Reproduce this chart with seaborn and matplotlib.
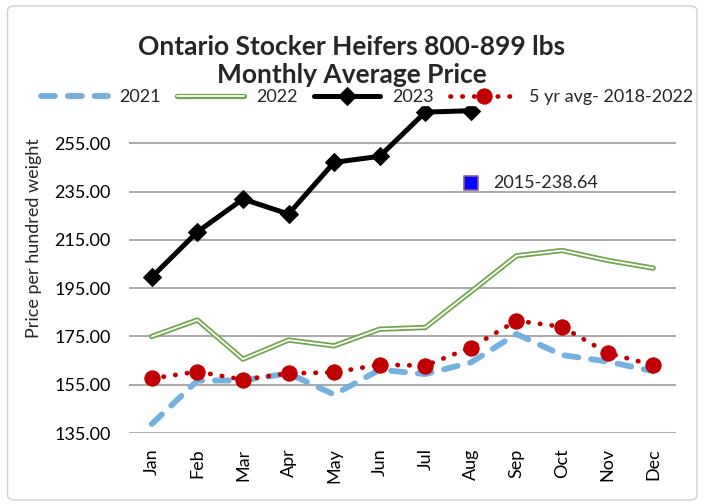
import matplotlib
matplotlib.use("Agg")
import matplotlib.pyplot as plt
import matplotlib.patheffects as pe
from matplotlib.patches import FancyBboxPatch
import seaborn as sns
import numpy as np

months = ["Jan", "Feb", "Mar", "Apr", "May", "Jun", "Jul", "Aug", "Sep", "Oct", "Nov", "Dec"]
y2021 = [138.7, 156.7, 156.8, 159.7, 150.9, 161.2, 159.4, 164.2, 176.0, 167.3, 164.6, 160.6]
y2022 = [175.0, 181.8, 165.6, 173.5, 171.1, 178.0, 178.7, 193.5, 208.4, 210.6, 206.5, 203.3]
y2023 = [199.6, 218.3, 231.9, 225.7, 247.1, 249.6, 267.9, 268.5]
y5yr = [157.6, 160.4, 157.1, 159.7, 160.1, 163.3, 162.9, 170.4, 181.5, 179.0, 168.1, 163.1]
point2015_month = "Aug"
point2015_value = 238.64
point2015_label = "2015-238.64"
yticks = [135, 155, 175, 195, 215, 235, 255]

sns.set_theme(style="white")
plt.rcParams['font.family'] = ['Lato', 'DejaVu Sans']

W, H = 704, 504
fig = plt.figure(figsize=(W / 100, H / 100), dpi=100)
fig.patch.set_facecolor("white")
border = FancyBboxPatch((7.5 / W, 4 / H), (697 - 7.5) / W, (498 - 4) / H,
                        boxstyle="round,pad=0,rounding_size=0.01",
                        transform=fig.transFigure, fill=False,
                        edgecolor="#d0d0d0", lw=1.0)
fig.patches.append(border)

ax = fig.add_axes([129 / W, 1 - 433 / H, (676 - 129) / W, (433 - 95) / H])
x = np.arange(len(months))

c2021 = "#74b1e0"
c2022 = "#70a44a"
c5 = "#c00000"

sns.lineplot(x=x, y=y2021, ax=ax, color=c2021, lw=4.2,
             linestyle=(0, (2.4, 2.2)), dash_capstyle="round", label="2021", zorder=3)
sns.lineplot(x=x, y=y2022, ax=ax, color="white", lw=1.3, label="2022",
             path_effects=[pe.Stroke(linewidth=3.8, foreground=c2022), pe.Normal()], zorder=3)
sns.lineplot(x=x[:len(y2023)], y=y2023, ax=ax, color="black", lw=3.6,
             marker="D", markersize=9, markeredgecolor="black", label="2023", zorder=4)
sns.lineplot(x=x, y=y5yr, ax=ax, color=c5, lw=3.4, linestyle=(0, (0.1, 2.4)),
             dash_capstyle="round", marker="o", markersize=11, markeredgecolor=c5,
             label="5 yr avg- 2018-2022", zorder=5)

px = months.index(point2015_month)
sns.scatterplot(x=[px], y=[point2015_value], ax=ax, marker="s", s=95, color="#0000ff",
                edgecolor="#8d5a97", linewidth=1.2, zorder=6, legend=False)
ax.text(px + 0.48, point2015_value, point2015_label, fontsize=13, va="center", ha="left")

ax.set_xlim(-0.5, 11.5)
ax.set_ylim(135, 275)
ax.set_yticks(yticks)
ax.set_yticklabels([f"{v:.2f}" for v in yticks])
ax.set_xticks(x)
ax.set_xticklabels(months, rotation=90)
ax.tick_params(axis="both", length=0, labelsize=13, colors="black")
ax.tick_params(axis="x", pad=11)
ax.tick_params(axis="y", pad=13)
ax.yaxis.grid(True, color="#ababab", lw=1.5)
ax.xaxis.grid(False)
for s in ax.spines.values():
    s.set_visible(False)
ax.set_xlabel("")
ax.set_ylabel("Price per hundred weight", fontsize=13)
ax.yaxis.set_label_coords((42 - 129) / 547, (433 - 238.5) / 338)

handles, labels = ax.get_legend_handles_labels()
ax.legend_.remove()
fig.legend(handles, labels, loc="center", bbox_to_anchor=(367 / W, 1 - 97 / H),
           ncol=4, frameon=True, facecolor="white", edgecolor="white", framealpha=1,
           fontsize=13, handlelength=3.7, columnspacing=0.9, handletextpad=0.65,
           borderpad=0.0, borderaxespad=0, numpoints=1)

fig.text(352 / W, 1 - 47 / H, "Ontario Stocker Heifers 800-899 lbs", ha="center",
         va="center", fontsize=19, fontweight="bold", zorder=10)
fig.text(352 / W, 1 - 75 / H, "Monthly Average Price", ha="center",
         va="center", fontsize=19, fontweight="bold", zorder=10)

fig.savefig("out.png", dpi=100)
